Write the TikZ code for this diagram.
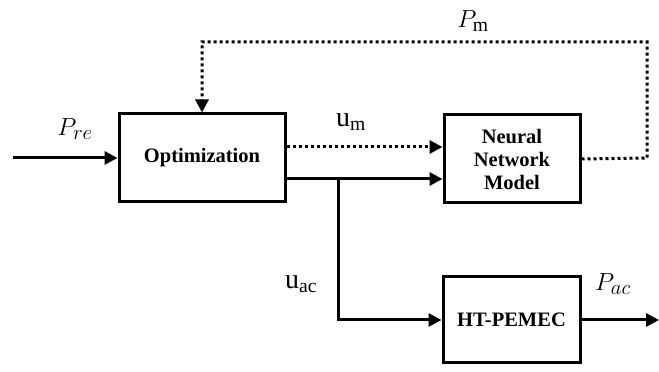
\documentclass[tikz,border=0pt]{standalone}
\usepackage{fontspec}
\setmainfont{Liberation Serif}
\usetikzlibrary{arrows.meta}
\begin{document}
\begin{tikzpicture}[x=1pt,y=1pt,
  line width=3pt,
  >={Triangle[length=13pt,width=13pt]},
  block/.style={draw,line width=3pt,align=center,inner sep=0pt,
    font=\fontsize{20.5}{23}\selectfont\bfseries},
  dots/.style={dash pattern=on 3pt off 3pt},
  lbl/.style={font=\fontsize{28}{30}\selectfont}]
\useasboundingbox (0,0) rectangle (659,372);
% blocks
\node[block,minimum width=166pt,minimum height=88pt] (opt) at (202,214) {Optimization};
\node[block,minimum width=136pt,minimum height=88pt] (nn) at (512,213) {Neural\\Network\\Model};
\node[block,minimum width=137pt,minimum height=86pt] (ht) at (511.5,52) {HT-PEMEC};
% helper points
\coordinate (in) at (13,214);
\coordinate (fbr) at (647,214);
\coordinate (fbtr) at (647,330);
\coordinate (fbtl) at (202,330);
\coordinate (br) at (338,193);
\coordinate (out) at (659,52);
% input
\draw[->] (in) -- (opt.west);
% model prediction feedback
\draw[dots,->] (nn.east) -- (fbr) -- (fbtr) -- (fbtl) -- (opt.north);
% control signals
\draw[dots,->] ([yshift=11pt]opt.east) -- ([yshift=11pt]opt.east -| nn.west);
\draw[->] ([yshift=-21pt]opt.east) -- ([yshift=-21pt]opt.east -| nn.west);
\draw[->] (br) |- (ht.west);
% output
\draw[->] (ht.east) -- (out);
% labels
\node[lbl] (lpre) at (75,243) {$P_{re}$};
\node[lbl] (lum) at (351,250) {$\mathrm{u}_{\mathrm{m}}$};
\node[lbl] (lpm) at (473,351) {$P_{\mathrm{m}}$};
\node[lbl] (luac) at (301,88) {$\mathrm{u}_{\mathrm{ac}}$};
\node[lbl] (lpac) at (613,88) {$P_{ac}$};
\end{tikzpicture}
\end{document}
